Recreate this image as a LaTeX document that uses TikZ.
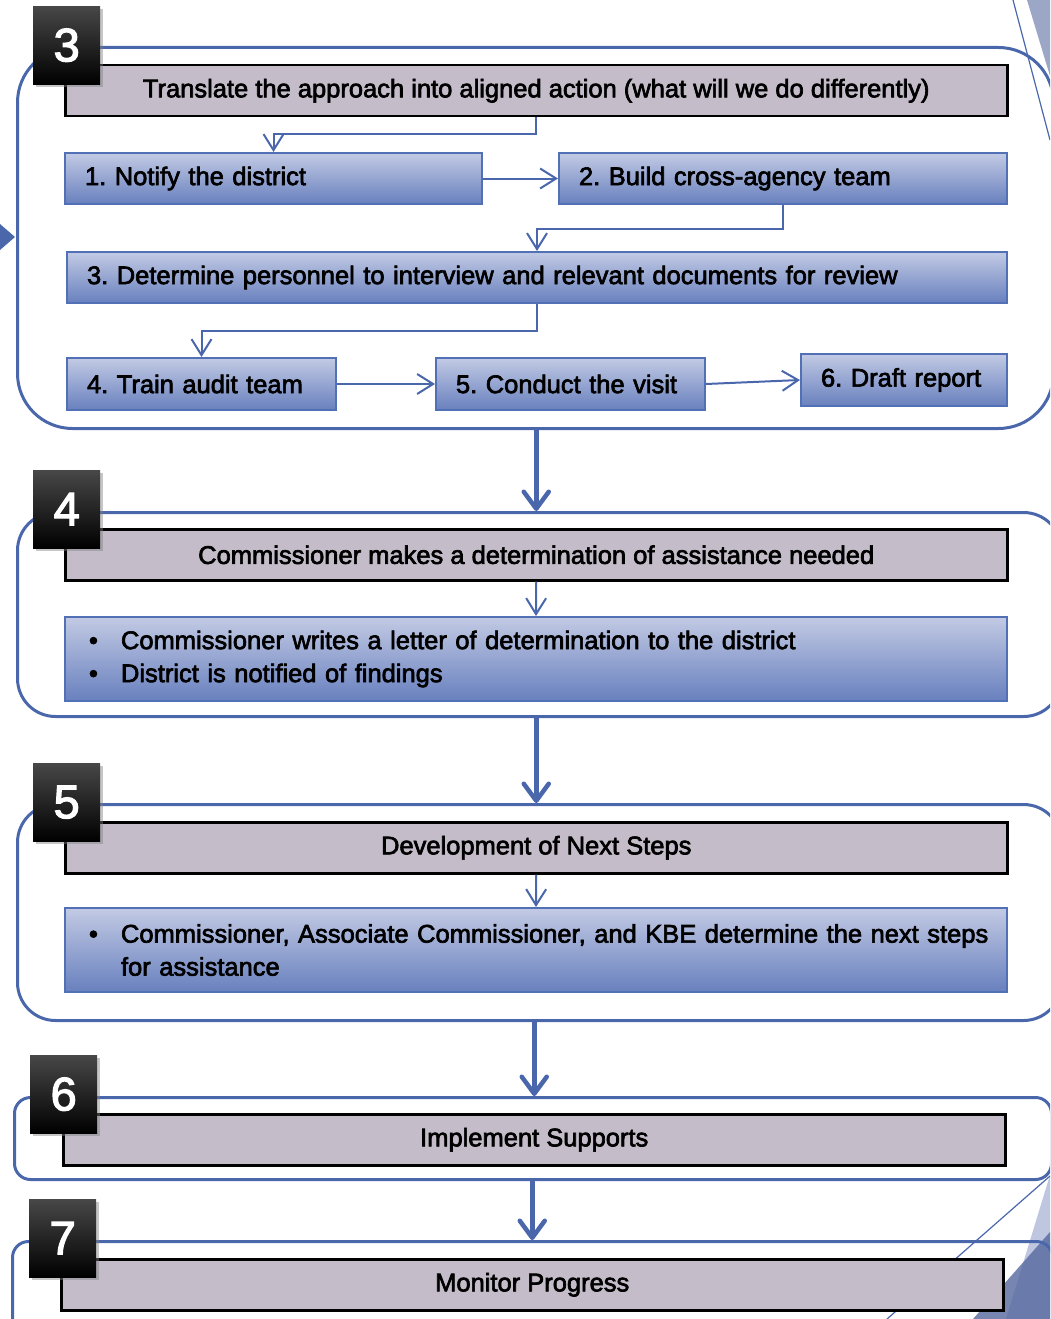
\documentclass[tikz,border=0pt]{standalone}
\usepackage{fontspec}
\setmainfont{Liberation Sans}
\newfontfamily\boxfont{Liberation Sans}[FakeBold=2.6]
\usepackage{tikz}
\usetikzlibrary{arrows.meta,positioning,shadows}
\definecolor{frameblue}{RGB}{74,103,172}
\definecolor{boxedge}{RGB}{82,112,182}
\definecolor{boxtop}{RGB}{194,202,228}
\definecolor{boxbot}{RGB}{104,128,190}
\definecolor{headgrey}{RGB}{196,189,201}
\definecolor{decolight}{RGB}{190,198,224}
\definecolor{decodark}{RGB}{84,104,158}
\definecolor{decogrey}{RGB}{156,166,198}
\frenchspacing

\begin{document}
\begin{tikzpicture}
  [x=1pt,y=-1pt,
   every node/.style={font=\boxfont\fontsize{25.5}{33}\selectfont,inner sep=0pt},
   frame/.style={draw=frameblue,line width=3pt,anchor=north west},
   header/.style={draw=black,line width=2.5pt,fill=headgrey,anchor=north west,
     minimum width=942pt,minimum height=51pt},
   stepbox/.style={draw=boxedge,line width=2pt,top color=boxtop,bottom color=boxbot,
     anchor=north west,minimum height=51pt,inner xsep=20pt,text width=#1,align=left},
   numbox/.style={anchor=north west,minimum width=67pt,minimum height=78pt,
     top color=black!72,bottom color=black,text=white,font=\boxfont\fontsize{47}{47}\selectfont,
     drop shadow={shadow xshift=3pt,shadow yshift=-3pt,opacity=0.45}},
   link/.style={draw=frameblue,line width=2pt,-{Straight Barb[length=16pt,width=20pt]}},
   bigLink/.style={draw=frameblue,line width=4.5pt,line cap=round,
     -{Straight Barb[length=17pt,width=25pt,round]}}]
  \useasboundingbox (0,0) rectangle (1050,1319);
  \clip (0,0) rectangle (1050,1319);
  % background pieces at the edges
  \fill[decogrey] (1027,0) -- (1050,0) -- (1050,76) -- cycle;
  \draw[frameblue,line width=1.2pt] (1013,0) -- (1050,140);
  \fill[decolight] (1050,1175) -- (1050,1319) -- (1006,1319) -- cycle;
  \fill[decodark,opacity=0.8] (1050,1232) -- (1050,1319) -- (973,1319) -- cycle;
  \draw[frameblue,line width=1.2pt] (1050,1176) -- (887,1319);
  \fill[frameblue] (0,224) -- (15,237) -- (0,250) -- cycle;

  % stage frames
  \node[frame,rounded corners=55pt,minimum width=1036pt,minimum height=381pt] (c3) at (16,46) {};
  \node[frame,rounded corners=38pt,minimum width=1044pt,minimum height=204pt] (c4) at (16,511) {};
  \node[frame,rounded corners=38pt,minimum width=1044pt,minimum height=216pt] (c5) at (16,803) {};
  \node[frame,rounded corners=16pt,minimum width=1037pt,minimum height=82pt] (c6) at (13,1096) {};
  \node[frame,rounded corners=16pt,minimum width=1040pt,minimum height=130pt] (c7) at (11,1240) {};

  % headers
  \node[header] (h3) at (64,64) {Translate the approach into aligned action (what will we do differently)};
  \node[header] (h4) at (64,528) {Commissioner makes a determination of assistance needed};
  \node[header] (h5) at (64,821) {Development of Next Steps};
  \node[header] (h6) at (62,1113) {Implement Supports};
  \node[header] (h7) at (60,1258) {Monitor Progress};

  % steps of stage 3
  \node[stepbox=377pt] (s1) at (64,152) {1. Notify the district};
  \node[stepbox=408pt] (s2) at (558,152) {2. Build cross-agency team};
  \node[stepbox=900pt] (s3) at (66,251) {3. Determine personnel to interview and relevant documents for review};
  \node[stepbox=229pt,minimum height=52pt] (s4) at (66,357) {4. Train audit team};
  \node[stepbox=229pt,minimum height=52pt] (s5) at (435,357) {5. Conduct the visit};
  \node[stepbox=166pt,minimum height=52pt] (s6) at (800,353) {6. Draft report};

  % bullet boxes
  \node[stepbox=902pt,minimum height=84pt] (b4) at (64,616)
    {\makebox[36pt][l]{\hspace{4pt}\textbullet}Commissioner writes a letter of determination to the district\\
     \makebox[36pt][l]{\hspace{4pt}\textbullet}District is notified of findings};
  \node[stepbox=902pt,minimum height=84pt] (b5) at (64,907)
    {\mbox{\makebox[36pt][l]{\hspace{4pt}\textbullet}Commissioner, Associate Commissioner, and KBE determine the next steps}\\
     \hspace*{36pt}for assistance};

  % stage numbers
  \node[numbox] (k3) at (33,6) {3};
  \node[numbox] (k4) at (33,470) {4};
  \node[numbox] (k5) at (33,763) {5};
  \node[numbox] (k6) at (30,1055) {6};
  \node[numbox] (k7) at (29,1199) {7};

  % connectors inside the frames
  \draw[link] (h3.south) -- ++(0,17) -| (s1.north);
  \draw[link] (s1.east) -- (s2.west);
  \draw[link] (s2.south) -- ++(0,24) -| (s3.north);
  \draw[link] (s3.south) -- ++(0,27) -| (s4.north);
  \draw[link] (s4.east) -- (s5.west);
  \draw[link] (s5.east) -- (s6.west);
  \draw[link] (h4.south) -- (b4.north);
  \draw[link] (h5.south) -- (b5.north);

  % connectors between the frames
  \foreach \from/\to/\col in {c3/c4/h4,c4/c5/h5,c5/c6/h6,c6/c7/h7}
    \draw[bigLink] (\col.south |- \from.south) -- (\col.south |- \to.north);
\end{tikzpicture}
\end{document}
